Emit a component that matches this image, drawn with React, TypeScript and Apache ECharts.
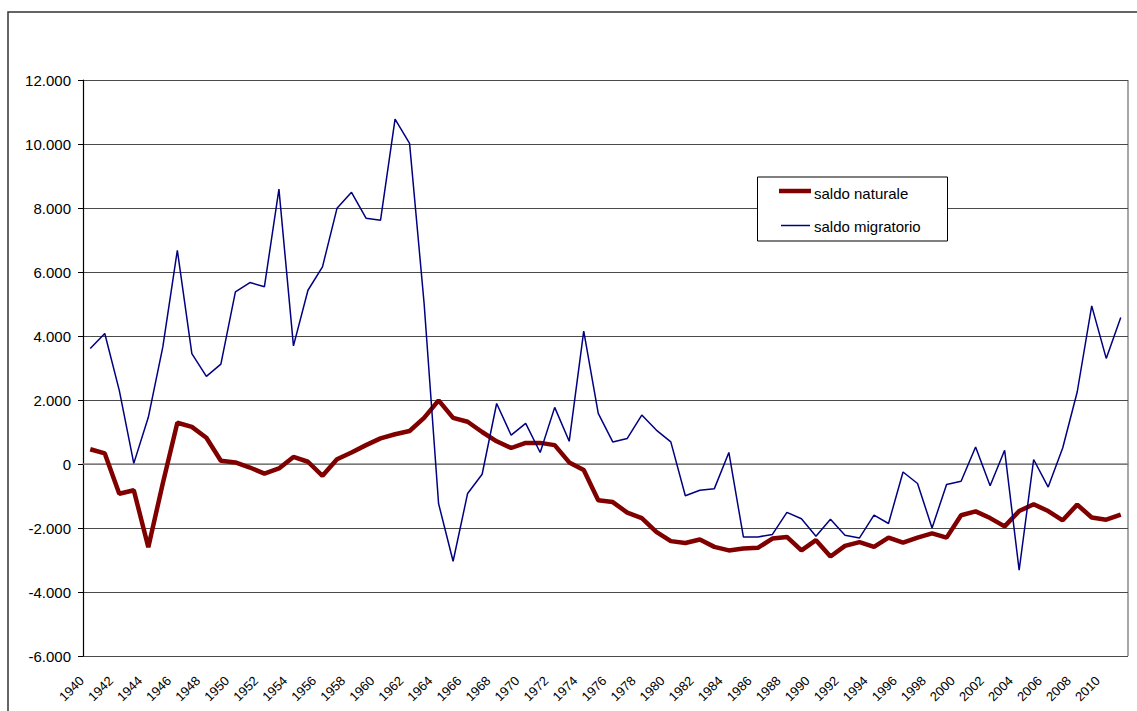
import React, { useEffect, useRef } from "react";
import * as echarts from "echarts";

const years: string[] = [];
for (let y = 1940; y <= 2011; y++) years.push(String(y));

const saldoNaturale = [
  460, 330, -930, -820, -2600, -600, 1290, 1160, 820, 100,
  50, -110, -300, -140, 220, 70, -370, 150, 360, 590,
  800, 930, 1030, 1440, 1990, 1440, 1320, 1000, 710, 500,
  660, 660, 590, 50, -190, -1130, -1190, -1520, -1690, -2120,
  -2410, -2470, -2360, -2590, -2700, -2640, -2620, -2330, -2280, -2700,
  -2380, -2890, -2560, -2440, -2590, -2300, -2460, -2300, -2170, -2300,
  -1600, -1480, -1690, -1950, -1470, -1260, -1470, -1760, -1270, -1670,
  -1740, -1580,
];

const saldoMigratorio = [
  3610, 4080, 2300, 20, 1460, 3660, 6680, 3450, 2740, 3120,
  5380, 5670, 5540, 8590, 3690, 5430, 6160, 7990, 8490, 7680,
  7620, 10780, 10020, 5030, -1240, -3040, -920, -320, 1890, 900,
  1270, 360, 1770, 710, 4150, 1580, 690, 800, 1530, 1060,
  690, -990, -820, -770, 360, -2280, -2280, -2200, -1510, -1710,
  -2260, -1730, -2230, -2310, -1600, -1860, -250, -610, -2000, -640,
  -540, 530, -680, 430, -3320, 140, -720, 500, 2250, 4940,
  3300, 4580,
];

const yTicks = { min: -6000, max: 12000, interval: 2000 };
const seriesNames = ["saldo naturale", "saldo migratorio"];
const colors = ["#800000", "#000080"];

const FONT = "'Liberation Sans', Arial, sans-serif";

function fmt(v: number): string {
  const s = Math.abs(v).toString().replace(/\B(?=(\d{3})+(?!\d))/g, ".");
  return (v < 0 ? "-" : "") + s;
}

export default function App() {
  const ref = useRef<HTMLDivElement>(null);
  useEffect(() => {
    if (!ref.current) return;
    const chart = echarts.init(ref.current, null, { renderer: "svg" });
    chart.setOption({
      animation: false,
      backgroundColor: "#ffffff",
      grid: { left: 83, top: 80, right: 9, bottom: 55, containLabel: false },
      xAxis: {
        type: "category",
        data: years,
        boundaryGap: true,
        axisLine: { show: true, lineStyle: { color: "#8a8a8a", width: 1.5 } },
        axisTick: { show: false },
        axisLabel: {
          interval: 1,
          rotate: 45,
          margin: 14,
          padding: [0, 12, 0, 0],
          fontSize: 13,
          color: "#000",
          fontFamily: FONT,
        },
        splitLine: { show: false },
      },
      yAxis: {
        type: "value",
        min: yTicks.min,
        max: yTicks.max,
        interval: yTicks.interval,
        axisLine: { show: true, onZero: false, lineStyle: { color: "#000", width: 1.2 } },
        axisTick: { show: true, length: 5, lineStyle: { color: "#000" } },
        axisLabel: {
          formatter: (v: number) => fmt(v),
          fontSize: 15,
          margin: 12,
          color: "#000",
          fontFamily: FONT,
        },
        splitLine: { show: true, lineStyle: { color: "#4a4a4a", width: 1.2 } },
      },
      series: [
        {
          name: seriesNames[0],
          type: "line",
          data: saldoNaturale,
          symbol: "none",
          lineStyle: { color: colors[0], width: 4.5 },
          itemStyle: { color: colors[0] },
          z: 3,
        },
        {
          name: seriesNames[1],
          type: "line",
          data: saldoMigratorio,
          symbol: "none",
          lineStyle: { color: colors[1], width: 1.5 },
          itemStyle: { color: colors[1] },
          z: 4,
        },
      ],
      graphic: [
        {
          type: "rect",
          shape: { x: 8, y: 12, width: 1200, height: 800 },
          style: { fill: "none", stroke: "#333", lineWidth: 1.5 },
          silent: true,
          z: 0,
        },
        {
          type: "rect",
          shape: { x: 1128, y: 80, width: 0, height: 576 },
          style: { fill: "none", stroke: "#8a8a8a", lineWidth: 1.5 },
          silent: true,
        },
        {
          type: "rect",
          shape: { x: 757.5, y: 177, width: 190, height: 64 },
          style: { fill: "#fff", stroke: "#000", lineWidth: 1 },
          z: 10,
        },
        {
          type: "line",
          shape: { x1: 779, y1: 191, x2: 811, y2: 191 },
          style: { stroke: colors[0], lineWidth: 4.5 },
          z: 11,
        },
        {
          type: "text",
          x: 814,
          y: 193,
          style: {
            text: seriesNames[0],
            fontSize: 15,
            fontFamily: FONT,
            fill: "#000",
            verticalAlign: "middle",
          },
          z: 11,
        },
        {
          type: "line",
          shape: { x1: 781, y1: 225.5, x2: 810, y2: 225.5 },
          style: { stroke: colors[1], lineWidth: 1.5 },
          z: 11,
        },
        {
          type: "text",
          x: 814,
          y: 226,
          style: {
            text: seriesNames[1],
            fontSize: 15,
            fontFamily: FONT,
            fill: "#000",
            verticalAlign: "middle",
          },
          z: 11,
        },
      ],
    });
    return () => chart.dispose();
  }, []);
  return (
    <div
      ref={ref}
      style={{ position: "absolute", left: 0, top: 0, width: 1137, height: 711 }}
    />
  );
}
